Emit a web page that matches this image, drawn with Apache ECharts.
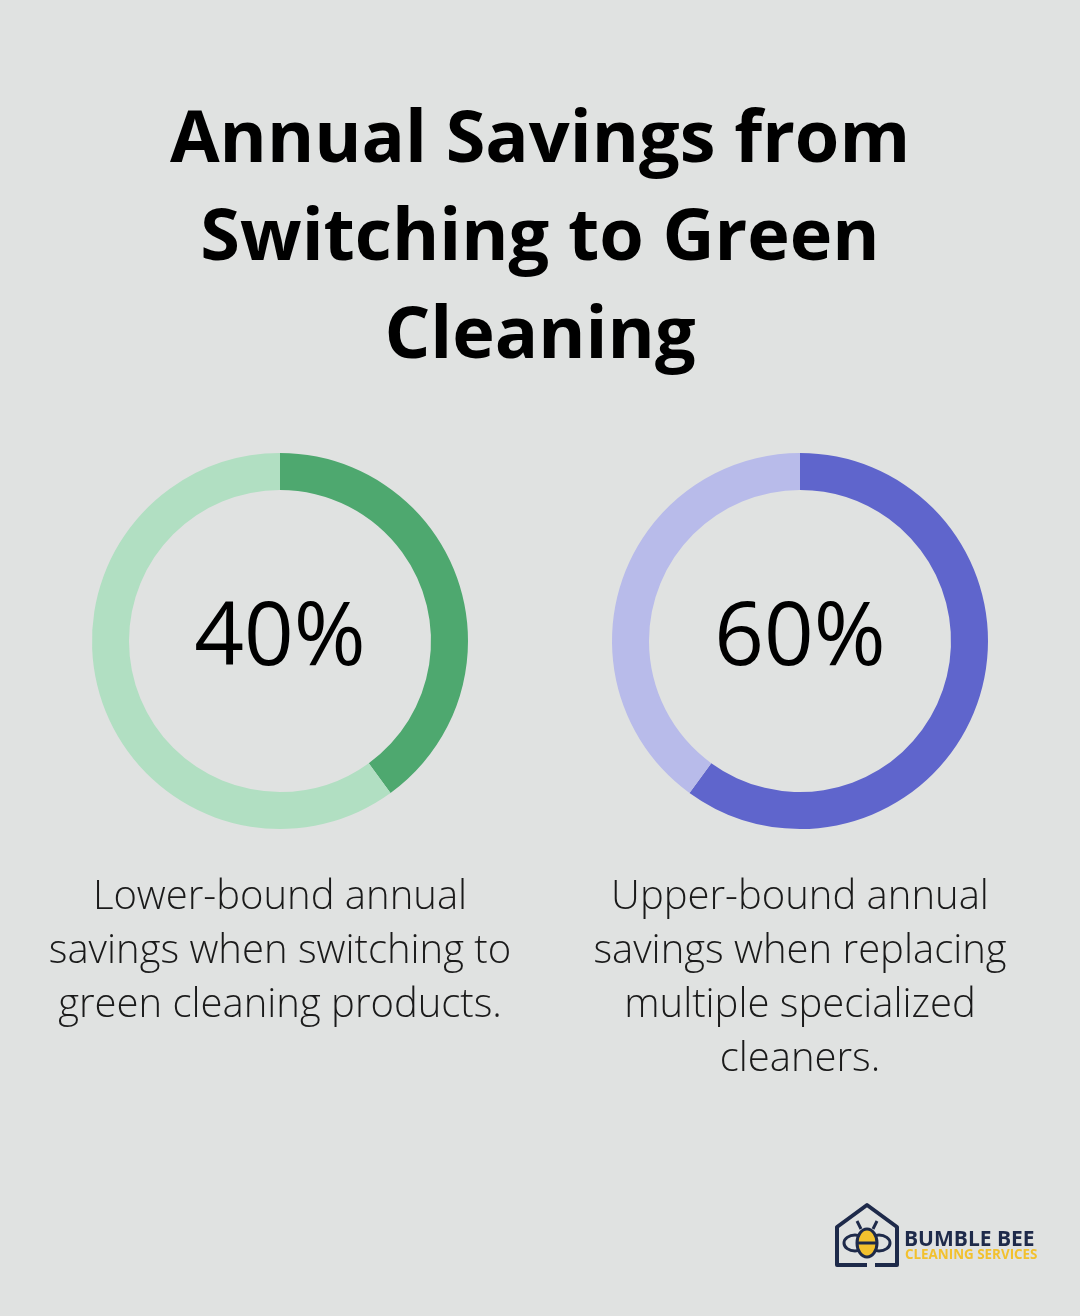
<!DOCTYPE html>
<html><head><meta charset="utf-8">
<script src="https://cdn.jsdelivr.net/npm/echarts@6/dist/echarts.min.js"></script>
<style>html,body{margin:0;padding:0;background:#e0e2e1;}#c{width:1080px;height:1316px;}</style>
</head><body><div id="c"></div>
<script>
const titleLines = ["Annual Savings from", "Switching to Green", "Cleaning"];
const metrics = ["Lower-bound", "Upper-bound"];
const savingsPct = [40, 60];
const descriptions = [
  ["Lower-bound annual", "savings when switching to", "green cleaning products."],
  ["Upper-bound annual", "savings when replacing", "multiple specialized", "cleaners."]
];
const darkColors = ["#4ea86f", "#5f65cc"];
const lightColors = ["#b1dfc2", "#b8bbea"];
const centersX = [280, 800];

const chart = echarts.init(document.getElementById('c'), null, {renderer: 'canvas'});
const series = savingsPct.map((v, i) => ({
  type: 'pie', silent: true, animation: false,
  center: [centersX[i], 641], radius: [151, 188],
  startAngle: 90, clockwise: true,
  label: {show: false}, labelLine: {show: false},
  itemStyle: {borderWidth: 0},
  data: [
    {name: metrics[i], value: v, itemStyle: {color: darkColors[i]}},
    {name: 'rest', value: 100 - v, itemStyle: {color: lightColors[i]}}
  ]
}));

const graphics = [];
titleLines.forEach((t, i) => graphics.push({
  type: 'text', x: 540, y: 141 + i * 98,
  style: {text: t, font: 'bold 72px "Open Sans"', fill: '#000', textAlign: 'center', textVerticalAlign: 'middle'}
}));
savingsPct.forEach((v, i) => graphics.push({
  type: 'text', x: centersX[i], y: 640,
  style: {text: v + '%', font: '500 87px "Open Sans"', fill: '#000', textAlign: 'center', textVerticalAlign: 'middle'}
}));
descriptions.forEach((lines, i) => lines.forEach((t, j) => graphics.push({
  type: 'text', x: centersX[i], y: 898 + j * 54,
  style: {text: t, font: '300 40px "Open Sans"', fill: '#1a1a1a', textAlign: 'center', textVerticalAlign: 'middle'}
})));
// logo
graphics.push({
  type: 'group', x: 835, y: 1203, children: [
    {type: 'polyline', shape: {points: [[32,62],[2,62],[2,24],[32,2],[62,24],[62,62],[40,62]]},
      style: {stroke: '#1e2a4a', lineWidth: 4, fill: null, lineJoin: 'round'}},
    {type: 'ellipse', shape: {cx: 20, cy: 40, rx: 11, ry: 8}, style: {stroke: '#1e2a4a', lineWidth: 3, fill: '#e0e2e1'}},
    {type: 'ellipse', shape: {cx: 44, cy: 40, rx: 11, ry: 8}, style: {stroke: '#1e2a4a', lineWidth: 3, fill: '#e0e2e1'}},
    {type: 'ellipse', shape: {cx: 32, cy: 40, rx: 10, ry: 14}, style: {stroke: '#1e2a4a', lineWidth: 3, fill: '#f2c12e'}},
    {type: 'line', shape: {x1: 23, y1: 40, x2: 41, y2: 40}, style: {stroke: '#1e2a4a', lineWidth: 3}},
    {type: 'line', shape: {x1: 26, y1: 26, x2: 22, y2: 18}, style: {stroke: '#1e2a4a', lineWidth: 3}},
    {type: 'line', shape: {x1: 38, y1: 26, x2: 42, y2: 18}, style: {stroke: '#1e2a4a', lineWidth: 3}},
    {type: 'text', x: 69, y: 37, style: {text: 'BUMBLE BEE', font: 'bold 21px "Open Sans"', fill: '#1e2a4a', textVerticalAlign: 'middle'}},
    {type: 'text', x: 70, y: 52, style: {text: 'CLEANING SERVICES', font: 'bold 13.4px "Open Sans"', fill: '#f2c12e', textVerticalAlign: 'middle'}}
  ]
});

chart.setOption({
  backgroundColor: '#e0e2e1',
  animation: false,
  series: series,
  graphic: graphics
});
</script></body></html>
